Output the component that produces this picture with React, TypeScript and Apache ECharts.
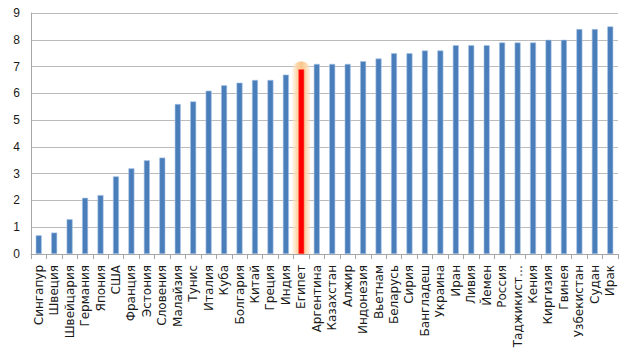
import React, { useEffect, useRef } from "react";
import * as echarts from "echarts";

const categories = [
  "Сингапур", "Швеция", "Швейцария", "Германия", "Япония", "США", "Франция", "Эстония",
  "Словения", "Малайзия", "Тунис", "Италия", "Куба", "Болгария", "Китай", "Греция",
  "Индия", "Египет", "Аргентина", "Казахстан", "Алжир", "Индонезия", "Вьетнам", "Беларусь",
  "Сирия", "Бангладеш", "Украина", "Иран", "Ливия", "Йемен", "Россия", "Таджикист…",
  "Кения", "Киргизия", "Гвинея", "Узбекистан", "Судан", "Ирак",
];

const values = [
  0.7, 0.8, 1.3, 2.1, 2.2, 2.9, 3.2, 3.5,
  3.6, 5.6, 5.7, 6.1, 6.3, 6.4, 6.5, 6.5,
  6.7, 6.9, 7.1, 7.1, 7.1, 7.2, 7.3, 7.5,
  7.5, 7.6, 7.6, 7.8, 7.8, 7.8, 7.9, 7.9,
  7.9, 8.0, 8.0, 8.4, 8.4, 8.5,
];

const highlighted = "Египет";

export default function App() {
  const ref = useRef<HTMLDivElement>(null);
  useEffect(() => {
    document.body.style.margin = "0";
    const chart = echarts.init(ref.current!, null, { renderer: "svg" });
    const glow = new echarts.graphic.LinearGradient(0, 0, 1, 0, [
      { offset: 0, color: "rgba(254,228,200,0.4)" },
      { offset: 0.25, color: "rgba(253,212,165,0.9)" },
      { offset: 0.5, color: "rgba(252,198,140,1)" },
      { offset: 0.75, color: "rgba(253,212,165,0.9)" },
      { offset: 1, color: "rgba(254,228,200,0.4)" },
    ]);
    chart.setOption({
      animation: false,
      backgroundColor: "#ffffff",
      grid: { left: 31, right: 12, top: 13, bottom: 106 },
      xAxis: [
        {
          type: "category",
          data: categories,
          axisLine: { lineStyle: { color: "#a6a6a6", width: 1 } },
          axisTick: { show: true, length: 5, lineStyle: { color: "#a6a6a6" } },
          axisLabel: {
            rotate: 90,
            interval: 0,
            margin: 11,
            fontFamily: "DejaVu Sans, Verdana, sans-serif",
            fontSize: 12,
            color: "#1a1a1a",
          },
        },
        {
          type: "category",
          data: categories,
          show: false,
        },
      ],
      yAxis: {
        type: "value",
        min: 0,
        max: 9,
        interval: 1,
        axisLine: { show: true, lineStyle: { color: "#a6a6a6", width: 1 } },
        axisTick: { show: false },
        splitLine: { lineStyle: { color: "#bcbcbc", width: 1 } },
        axisLabel: {
          margin: 11,
          fontFamily: "Liberation Sans, Arial, sans-serif",
          fontSize: 12,
          color: "#1a1a1a",
        },
      },
      series: [
        {
          type: "bar",
          xAxisIndex: 1,
          barWidth: 18,
          silent: true,
          z: 1,
          data: categories.map((c, i) => (c === highlighted ? values[i] + 0.3 : "-")),
          itemStyle: { color: glow, borderRadius: [9, 9, 0, 0] },
        },
        {
          type: "bar",
          xAxisIndex: 0,
          barWidth: 6,
          z: 2,
          data: categories.map((c, i) =>
            c === highlighted
              ? {
                  value: values[i],
                  itemStyle: { color: "#ff0000", borderColor: "#ff6a50", borderWidth: 0.6 },
                }
              : values[i]
          ),
          itemStyle: {
            color: "#4a7ebb",
            borderColor: "#a9c4e6",
            borderWidth: 0.6,
          },
        },
      ],
    });
    return () => chart.dispose();
  }, []);
  return <div ref={ref} style={{ width: 630, height: 360 }} />;
}
